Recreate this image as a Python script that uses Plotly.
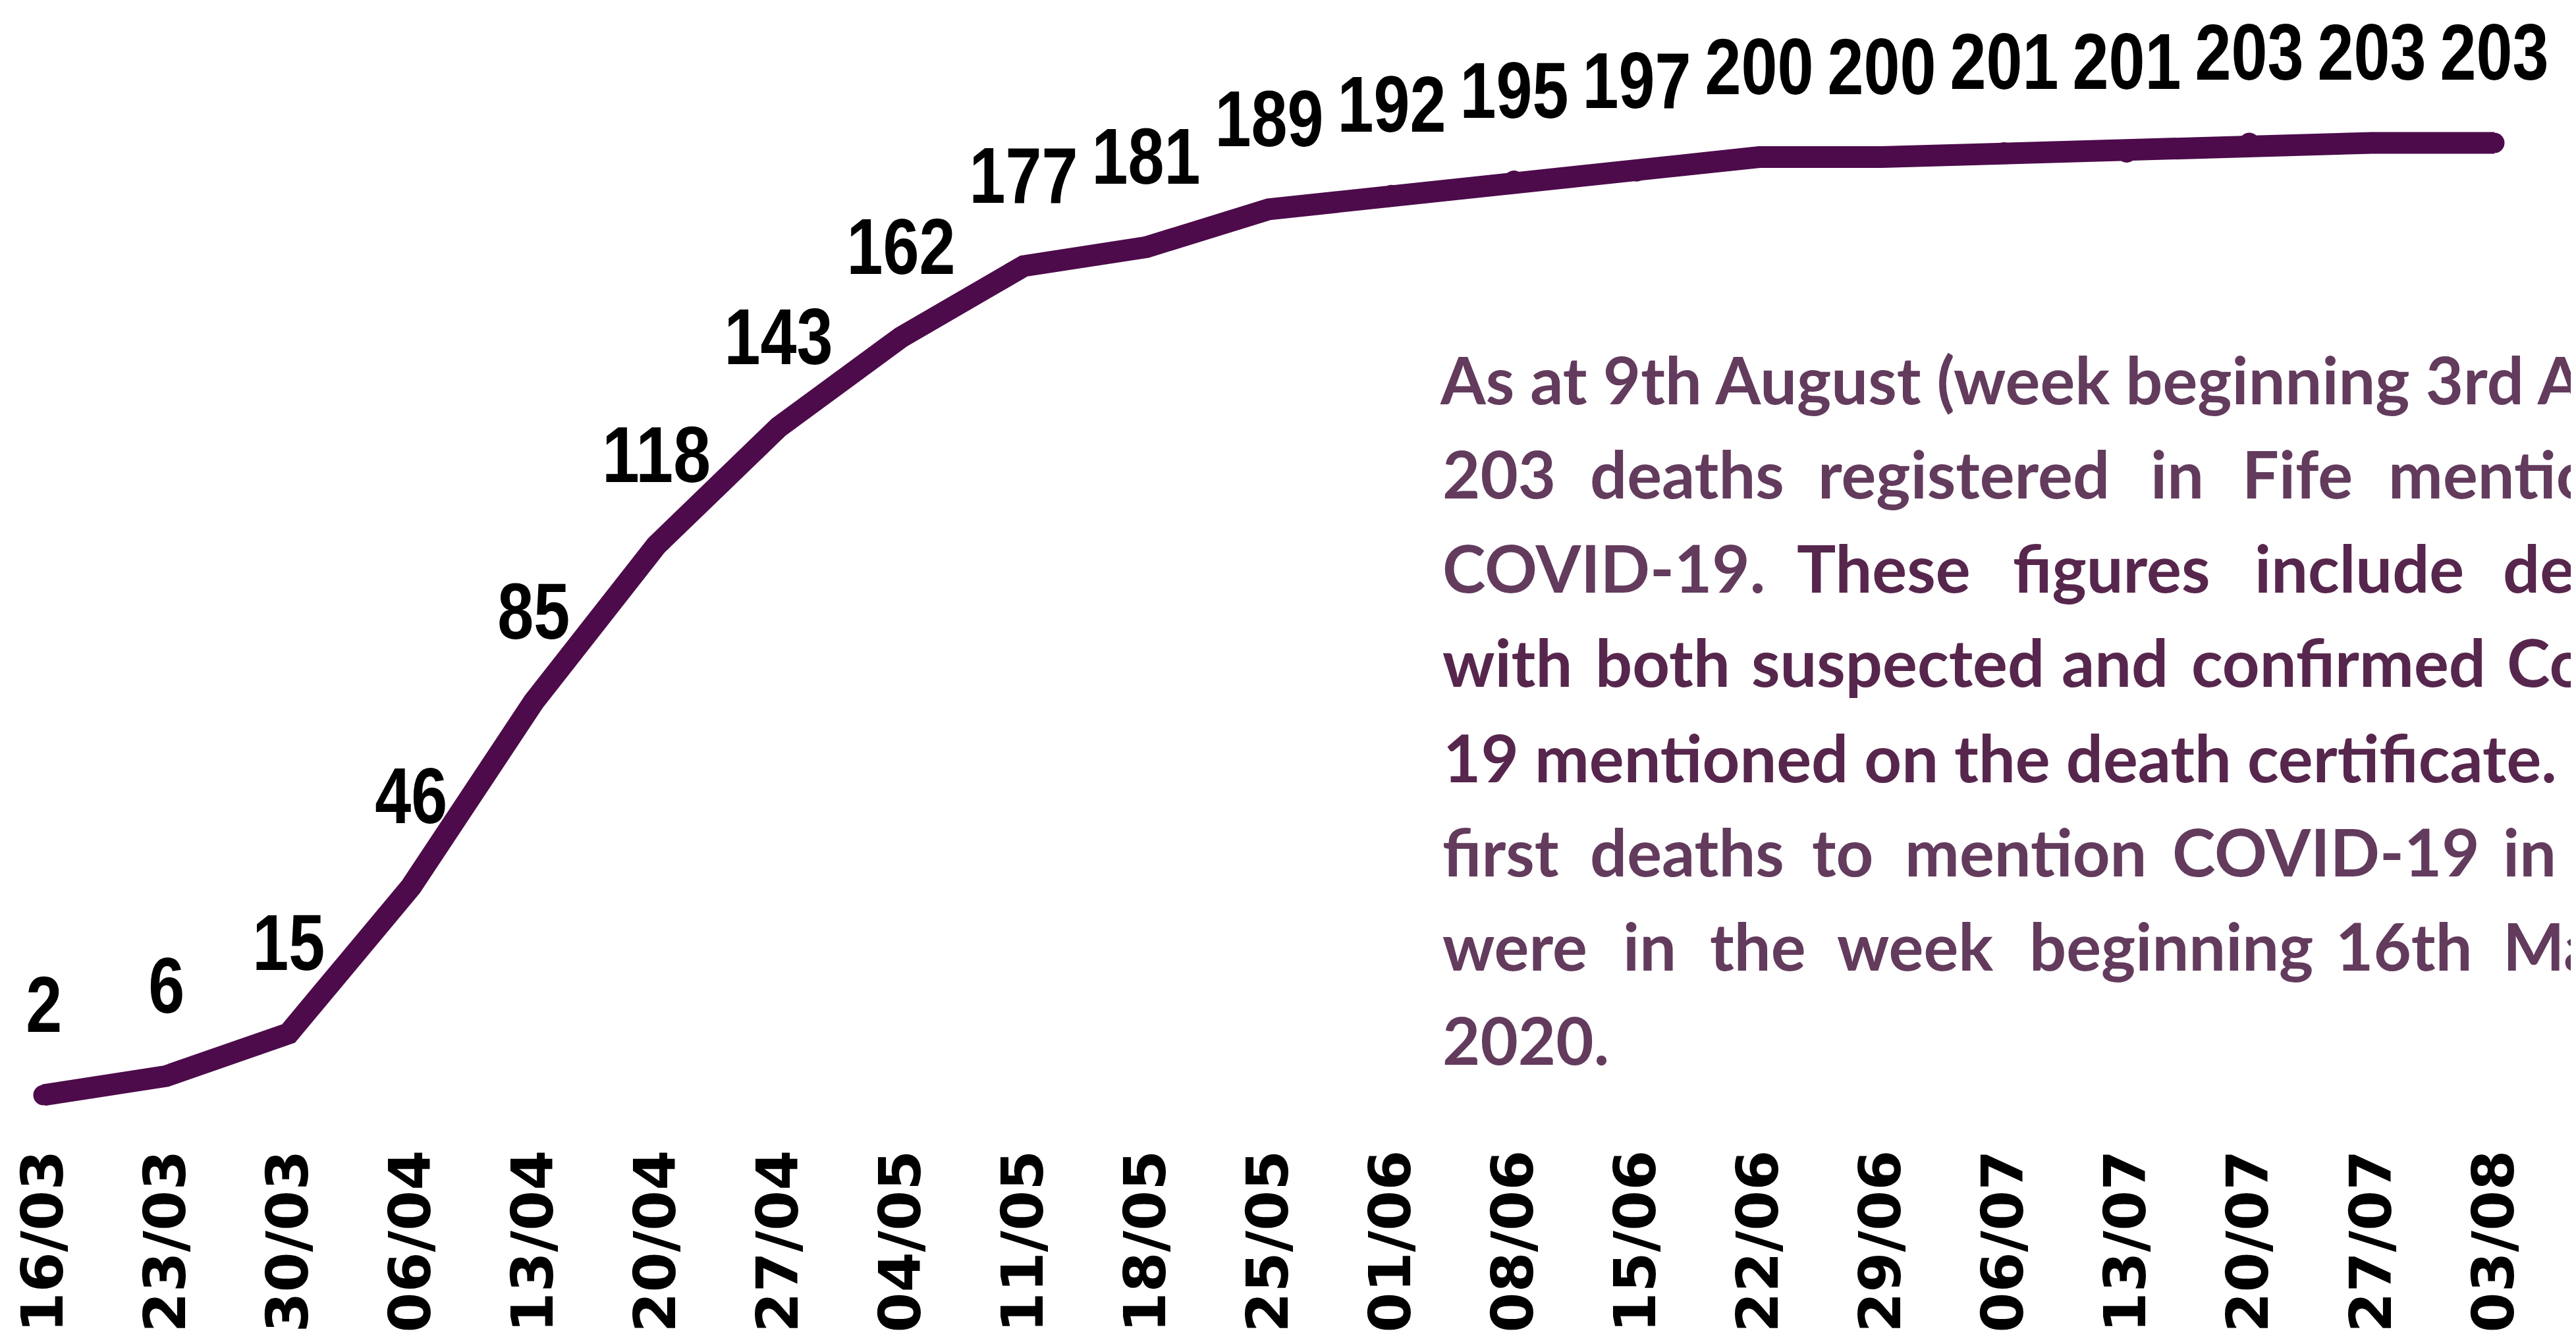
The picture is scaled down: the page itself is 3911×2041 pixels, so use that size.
import plotly.graph_objects as go

# ---------------- data ----------------
weeks = ["16/03", "23/03", "30/03", "06/04", "13/04", "20/04", "27/04", "04/05",
         "11/05", "18/05", "25/05", "01/06", "08/06", "15/06", "22/06", "29/06",
         "06/07", "13/07", "20/07", "27/07", "03/08"]
deaths = [2, 6, 15, 46, 85, 118, 143, 162, 177, 181, 189, 192, 195, 197, 200, 200,
          201, 201, 203, 203, 203]

# note text (justified paragraph, cut by the right edge of the picture)
note_lines = [
    ["As at 9th August (week beginning 3rd A"],
    ["203", "deaths", "registered", "in", "Fife", "mentio"],
    ["COVID-19.", "These", "figures", "include", "dea"],
    ["with", "both", "suspected", "and", "confirmed", "Co"],
    ["19 mentioned on the death certificate."],
    ["first", "deaths", "to", "mention", "COVID-19", "in"],
    ["were", "in", "the", "week", "beginning", "16th", "Ma"],
    ["2020."],
]

# ---------------- layout constants ----------------
W, H = 3911, 2041
PLOT_BOTTOM = 1720
LINE_COLOR = "#4d0b4b"
NOTE_LIGHT = "#633b5d"
NOTE_DARK = "#57264d"
X_FIX = -8
NOTE_SIZE = 99

note_word_x = [
    [2185],
    [2189, 2413, 2759, 3264, 3403, 3625],
    [2189, 2727, 3055, 3422, 3799],
    [2189, 2421, 2658, 3129, 3326, 3805],
    [2190],
    [2189, 2413, 2750, 2891, 3297, 3799],
    [2189, 2463, 2595, 2788, 3080, 3545, 3799],
    [2189],
]
note_baselines = [611, 754, 897, 1040, 1185, 1328, 1471, 1614]
note_colors = [
    [NOTE_LIGHT],
    [NOTE_LIGHT] * 6,
    [NOTE_LIGHT] + [NOTE_DARK] * 4,
    [NOTE_DARK] * 6,
    [NOTE_DARK],
    [NOTE_LIGHT] * 6,
    [NOTE_LIGHT] * 7,
    [NOTE_LIGHT],
]

fig = go.Figure()
fig.add_trace(go.Scatter(
    x=weeks, y=deaths, mode="lines+markers",
    line=dict(color=LINE_COLOR, width=33),
    marker=dict(color=LINE_COLOR, size=31, line=dict(width=0)),
    hoverinfo="skip", showlegend=False,
))

annotations = []
for w, d in zip(weeks, deaths):
    annotations.append(dict(
        x=w, y=d, xref="x", yref="y", text=str(d), showarrow=False,
        yshift=138, xanchor="center", yanchor="middle",
        font=dict(family="Liberation Sans", size=121, color="#000000", weight="bold"),
    ))

for words, xs, base, cols in zip(note_lines, note_word_x, note_baselines, note_colors):
    for word, px, col in zip(words, xs, cols):
        annotations.append(dict(
            x=(px + X_FIX) / W, y=1 - (base - 44) / PLOT_BOTTOM, xref="paper", yref="paper",
            text=word, showarrow=False, xanchor="left", yanchor="middle",
            borderpad=0,
            font=dict(family="Lato", size=NOTE_SIZE, color=col, weight="bold"),
        ))

# y scale: value 2 sits at 1655 px, value 203 at 209 px (from top)
ppu = (1655 - 209) / (deaths[-1] - deaths[0])
y0_px = 1655 + deaths[0] * ppu
y_min = -(PLOT_BOTTOM - y0_px) / ppu
y_max = y0_px / ppu

# x scale: first week at 58 px, last at 3779 px
x_ppu = (3779 - 58) / (len(weeks) - 1)
x_min = -58 / x_ppu
x_max = x_min + W / x_ppu

fig.update_layout(
    width=W, height=H,
    margin=dict(l=0, r=0, t=0, b=H - PLOT_BOTTOM, pad=0),
    paper_bgcolor="white", plot_bgcolor="white",
    showlegend=False, hovermode=False,
    annotations=annotations,
    xaxis=dict(type="category", range=[x_min, x_max], showgrid=False, zeroline=False,
               showline=False, ticks="", tickangle=-90,
               tickfont=dict(family="DejaVu Sans", size=88, color="#000000", weight="bold")),
    yaxis=dict(range=[y_min, y_max], visible=False, showgrid=False, zeroline=False),
)

# narrow the value labels (the original uses a condensed bold face)
post = """
var gd = document.getElementById('{plot_id}');
gd.querySelectorAll('text.annotation-text').forEach(function(t){
  var ff = (t.style.fontFamily || '');
  var s = t.textContent || '';
  if (ff.indexOf('Liberation') >= 0 && /^[0-9]+$/.test(s)) {
    t.setAttribute('textLength', String(s.length * 55));
    t.setAttribute('lengthAdjust', 'spacingAndGlyphs');
  }
});
"""

fig.write_html("out.html", post_script=post)
